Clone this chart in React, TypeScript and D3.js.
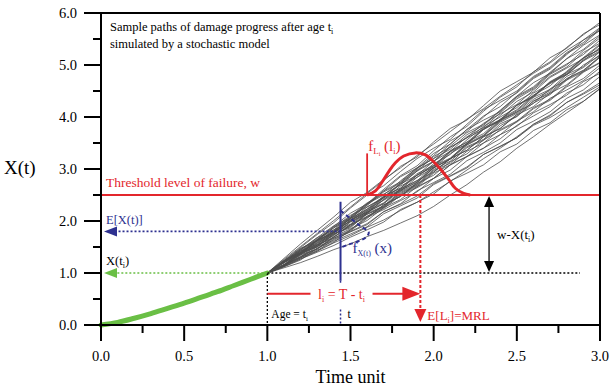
import React from 'react';
import * as d3 from 'd3';

// time grid used by the simulated sample paths (t = 1.0 .. 3.0)
const pathTimes = [1.0, 1.1, 1.2, 1.3, 1.4, 1.5, 1.6, 1.7, 1.8, 1.9, 2.0, 2.1, 2.2, 2.3, 2.4, 2.5, 2.6, 2.7, 2.8, 2.9, 3.0];

const samplePaths = [
  [1.00, 1.23, 1.47, 1.64, 1.90, 2.15, 2.33, 2.61, 2.87, 3.06, 3.35, 3.62, 3.82, 4.11, 4.38, 4.58, 4.87, 5.06, 5.34, 5.58, 5.82],
  [1.00, 1.14, 1.29, 1.51, 1.63, 1.80, 1.95, 2.18, 2.32, 2.48, 2.72, 2.87, 3.04, 3.28, 3.43, 3.60, 3.84, 3.99, 4.18, 4.38, 4.58],
  [1.00, 1.21, 1.37, 1.62, 1.79, 2.05, 2.23, 2.48, 2.63, 2.88, 3.15, 3.34, 3.62, 3.80, 4.08, 4.35, 4.54, 4.82, 5.00, 5.28, 5.52],
  [1.00, 1.16, 1.40, 1.54, 1.69, 1.93, 2.07, 2.31, 2.47, 2.72, 2.88, 3.14, 3.29, 3.56, 3.74, 3.90, 4.16, 4.32, 4.58, 4.74, 5.00],
  [1.00, 1.24, 1.49, 1.74, 1.97, 2.25, 2.50, 2.68, 2.95, 3.20, 3.40, 3.57, 3.86, 4.14, 4.32, 4.50, 4.78, 4.96, 5.24, 5.43, 5.70],
  [1.00, 1.13, 1.35, 1.46, 1.67, 1.81, 2.05, 2.31, 2.47, 2.74, 3.02, 3.20, 3.49, 3.76, 3.94, 4.22, 4.40, 4.68, 4.86, 5.14, 5.40],
  [1.00, 1.22, 1.45, 1.61, 1.77, 2.01, 2.27, 2.46, 2.73, 2.98, 3.15, 3.44, 3.70, 3.86, 4.13, 4.40, 4.66, 4.84, 5.12, 5.38, 5.58],
  [1.00, 1.12, 1.27, 1.40, 1.53, 1.69, 1.83, 1.98, 2.22, 2.36, 2.52, 2.77, 2.92, 3.08, 3.33, 3.48, 3.74, 3.89, 4.14, 4.30, 4.54],
  [1.00, 1.20, 1.34, 1.58, 1.83, 1.99, 2.15, 2.41, 2.67, 2.84, 3.02, 3.30, 3.48, 3.76, 3.94, 4.12, 4.40, 4.66, 4.82, 5.08, 5.25],
  [1.00, 1.15, 1.31, 1.54, 1.67, 1.83, 2.09, 2.26, 2.41, 2.66, 2.82, 3.08, 3.24, 3.40, 3.66, 3.82, 4.08, 4.24, 4.42, 4.68, 4.84],
  [1.00, 1.23, 1.39, 1.64, 1.89, 2.05, 2.31, 2.58, 2.75, 3.02, 3.30, 3.48, 3.76, 3.94, 4.10, 4.38, 4.56, 4.84, 5.02, 5.20, 5.48],
  [1.00, 1.26, 1.51, 1.76, 2.01, 2.27, 2.53, 2.78, 3.05, 3.23, 3.52, 3.78, 3.94, 4.22, 4.50, 4.68, 4.86, 5.14, 5.32, 5.60, 5.78],
  [1.00, 1.14, 1.37, 1.60, 1.75, 1.90, 2.15, 2.42, 2.59, 2.74, 3.02, 3.19, 3.47, 3.64, 3.92, 4.10, 4.26, 4.54, 4.71, 5.00, 5.18],
  [1.00, 1.20, 1.43, 1.58, 1.72, 1.98, 2.13, 2.28, 2.53, 2.68, 2.94, 3.20, 3.36, 3.62, 3.78, 4.04, 4.20, 4.46, 4.62, 4.88, 5.05],
  [1.00, 1.13, 1.27, 1.42, 1.65, 1.79, 1.93, 2.18, 2.33, 2.58, 2.74, 2.90, 3.16, 3.32, 3.50, 3.76, 3.92, 4.10, 4.36, 4.52, 4.78],
  [1.00, 1.21, 1.45, 1.68, 1.83, 2.09, 2.35, 2.52, 2.69, 2.96, 3.14, 3.42, 3.60, 3.76, 4.03, 4.30, 4.48, 4.76, 4.94, 5.12, 5.38],
  [1.00, 1.24, 1.41, 1.66, 1.81, 2.07, 2.33, 2.50, 2.77, 3.02, 3.20, 3.48, 3.76, 4.02, 4.20, 4.48, 4.76, 4.94, 5.22, 5.40, 5.68],
  [1.00, 1.16, 1.31, 1.46, 1.69, 1.93, 2.09, 2.24, 2.49, 2.64, 2.82, 3.08, 3.34, 3.50, 3.76, 3.92, 4.10, 4.36, 4.52, 4.70, 4.95],
  [1.00, 1.22, 1.37, 1.51, 1.73, 1.99, 2.23, 2.40, 2.57, 2.84, 3.10, 3.28, 3.56, 3.82, 4.00, 4.18, 4.46, 4.64, 4.81, 5.08, 5.34],
  [1.00, 1.12, 1.25, 1.48, 1.61, 1.75, 1.89, 2.14, 2.29, 2.44, 2.70, 2.86, 3.02, 3.28, 3.44, 3.60, 3.86, 4.02, 4.28, 4.44, 4.62],
  [1.00, 1.21, 1.44, 1.68, 1.91, 2.07, 2.33, 2.58, 2.85, 3.02, 3.20, 3.38, 3.66, 3.84, 4.12, 4.40, 4.58, 4.86, 5.12, 5.30, 5.56],
  [1.00, 1.15, 1.39, 1.53, 1.77, 2.01, 2.17, 2.34, 2.61, 2.78, 2.94, 3.20, 3.36, 3.62, 3.78, 4.05, 4.30, 4.48, 4.74, 4.90, 5.15],
  [1.00, 1.23, 1.47, 1.62, 1.87, 2.03, 2.19, 2.46, 2.71, 2.88, 3.06, 3.34, 3.52, 3.68, 3.96, 4.14, 4.42, 4.60, 4.88, 5.14, 5.30],
  [1.00, 1.14, 1.29, 1.44, 1.59, 1.83, 2.07, 2.22, 2.39, 2.56, 2.82, 2.98, 3.24, 3.40, 3.58, 3.84, 4.02, 4.20, 4.46, 4.62, 4.88],
  [1.00, 1.20, 1.42, 1.56, 1.80, 2.05, 2.30, 2.56, 2.73, 3.00, 3.26, 3.54, 3.72, 4.00, 4.28, 4.46, 4.74, 4.92, 5.20, 5.48, 5.66],
  [1.00, 1.16, 1.32, 1.47, 1.70, 1.85, 2.01, 2.26, 2.51, 2.66, 2.92, 3.08, 3.24, 3.50, 3.66, 3.92, 4.18, 4.34, 4.60, 4.86, 5.04],
  [1.00, 1.22, 1.39, 1.63, 1.87, 2.11, 2.27, 2.44, 2.71, 2.96, 3.24, 3.42, 3.60, 3.88, 4.06, 4.24, 4.52, 4.78, 4.96, 5.24, 5.42],
  [1.00, 1.10, 1.20, 1.32, 1.45, 1.56, 1.70, 1.82, 1.96, 2.10, 2.28, 2.50, 2.70, 2.94, 3.14, 3.40, 3.62, 3.86, 4.08, 4.30, 4.55],
  [1.00, 1.15, 1.30, 1.42, 1.58, 1.72, 1.88, 2.02, 2.20, 2.36, 2.56, 2.76, 2.98, 3.20, 3.40, 3.62, 3.86, 4.04, 4.28, 4.46, 4.66],
  [1.00, 1.28, 1.56, 1.82, 2.08, 2.36, 2.55, 2.80, 3.02, 3.26, 3.48, 3.72, 3.96, 4.16, 4.40, 4.62, 4.84, 5.04, 5.28, 5.48, 5.72],
  [1.00, 1.19, 1.42, 1.55, 1.80, 1.94, 2.20, 2.35, 2.62, 2.77, 3.06, 3.21, 3.49, 3.65, 3.94, 4.09, 4.38, 4.53, 4.82, 4.97, 5.26],
  [1.00, 1.15, 1.38, 1.53, 1.78, 1.92, 2.17, 2.33, 2.59, 2.75, 3.03, 3.19, 3.46, 3.63, 3.90, 4.07, 4.34, 4.51, 4.78, 4.95, 5.20],
  [1.00, 1.22, 1.36, 1.63, 1.78, 2.02, 2.17, 2.45, 2.60, 2.88, 3.04, 3.33, 3.48, 3.78, 3.92, 4.23, 4.38, 4.66, 4.83, 5.10, 5.27],
  [1.00, 1.16, 1.39, 1.50, 1.75, 1.89, 2.13, 2.27, 2.55, 2.69, 2.97, 3.11, 3.41, 3.55, 3.83, 4.01, 4.27, 4.43, 4.71, 4.87, 5.15],
  [1.00, 1.23, 1.39, 1.63, 1.79, 2.05, 2.21, 2.47, 2.63, 2.91, 3.07, 3.35, 3.51, 3.79, 3.95, 4.23, 4.41, 4.67, 4.85, 5.13, 5.31],
  [1.00, 1.14, 1.36, 1.51, 1.75, 1.87, 2.15, 2.29, 2.57, 2.71, 2.99, 3.15, 3.43, 3.57, 3.87, 4.01, 4.31, 4.45, 4.73, 4.89, 5.17],
];

// damage progress up to age t_i
const ageTimes = [0, 0.1, 0.2, 0.3, 0.4, 0.5, 0.6, 0.7, 0.8, 0.9, 1.0];
const ageDamage = [0, 0.05, 0.13, 0.22, 0.32, 0.42, 0.53, 0.64, 0.76, 0.88, 1.0];

// pdf of residual life, drawn on top of the threshold
const lifeT = [1.6, 1.65, 1.69, 1.73, 1.77, 1.82, 1.89, 1.95, 2.0, 2.04, 2.09, 2.13, 2.18, 2.22];
const lifeY = [2.5, 2.58, 2.75, 2.95, 3.12, 3.25, 3.31, 3.27, 3.14, 3.0, 2.8, 2.63, 2.53, 2.5];

// pdf of X(t) (sideways, at t)
const damageT = [1.44, 1.5, 1.56, 1.61, 1.59, 1.54, 1.49, 1.45];
const damageY = [2.2, 2.05, 1.9, 1.78, 1.68, 1.6, 1.55, 1.5];

const xMajor = [0, 0.5, 1.0, 1.5, 2.0, 2.5, 3.0];
const xMinor = [0.25, 0.75, 1.25, 1.75, 2.25, 2.75];
const yMajor = [0, 1, 2, 3, 4, 5, 6];
const yMinor = [0.5, 1.5, 2.5, 3.5, 4.5, 5.5];

const threshold = 2.5;
const ageTi = 1.0;
const damageTi = 1.0;
const tNow = 1.44;
const meanXt = 1.8;
const mrlT = 1.92;

const RED = '#e3262c';
const BLUE = '#2e3190';
const GREEN = '#6abf45';
const FONT = '"Liberation Serif", "Times New Roman", serif';

const x = d3.scaleLinear().domain([0, 3]).range([101, 600]);
const y = d3.scaleLinear().domain([0, 6]).range([325, 13]);

const head = (x1: number, y1: number, x2: number, y2: number, color: string, len = 12, w = 5) => {
  const a = Math.atan2(y2 - y1, x2 - x1);
  const bx = x2 - len * Math.cos(a);
  const by = y2 - len * Math.sin(a);
  const px = -Math.sin(a) * w;
  const py = Math.cos(a) * w;
  return <polygon points={`${x2},${y2} ${bx + px},${by + py} ${bx - px},${by - py}`} fill={color} />;
};

const Sub = ({ children, size = 8 }: any) => (
  <tspan fontSize={size} dy={3}>{children}</tspan>
);

export default function App() {
  const line = d3.line<[number, number]>().x(d => x(d[0])).y(d => y(d[1]));
  const smooth = d3.line<[number, number]>().x(d => x(d[0])).y(d => y(d[1])).curve(d3.curveCatmullRom);

  const txt = { fontFamily: FONT };

  return (
    <div style={{ position: 'fixed', left: 0, top: 0 }}>
      <svg width={616} height={392} style={{ display: 'block', background: '#fff' }}>
        {/* sample paths */}
        <g fill="none" stroke="#4d4d4d" strokeWidth={0.8}>
          {samplePaths.map((p, i) => (
            <path key={i} d={line(p.map((v, j) => [pathTimes[j], v]))!} />
          ))}
        </g>

        {/* damage until age t_i */}
        <path d={smooth(ageTimes.map((t, i) => [t, ageDamage[i]]))!} fill="none" stroke={GREEN} strokeWidth={5} strokeLinecap="round" />

        {/* threshold */}
        <line x1={x(0)} x2={x(3)} y1={y(threshold)} y2={y(threshold)} stroke={RED} strokeWidth={2.2} />
        <text x={106} y={y(threshold) - 8} fill={RED} fontSize={13.5} {...txt}>Threshold level of failure, w</text>

        {/* residual life pdf */}
        <path d={smooth(lifeT.map((t, i) => [t, lifeY[i]]))!} fill="none" stroke={RED} strokeWidth={3} />
        <line x1={x(1.6)} x2={x(1.6)} y1={y(threshold)} y2={y(3.3)} stroke={RED} strokeWidth={1.8} />
        <text x={x(1.6) + 1} y={y(3.35)} fill={RED} fontSize={15} {...txt}>
          f<tspan fontSize={9} dy={3}>L</tspan><tspan fontSize={6} dy={2}>i</tspan>
          <tspan dy={-5}> (l</tspan><tspan fontSize={8} dy={3}>i</tspan><tspan dy={-3}>)</tspan>
        </text>

        {/* x(t_i) level dotted */}
        <line x1={x(ageTi)} x2={x(2.88)} y1={y(damageTi)} y2={y(damageTi)} stroke="#000" strokeWidth={1.3} strokeDasharray="2,2" />
        <line x1={x(ageTi)} x2={x(ageTi)} y1={y(damageTi)} y2={y(0)} stroke="#000" strokeWidth={1.3} strokeDasharray="2,2" />
        <line x1={x(ageTi)} x2={x(0) + 12} y1={y(damageTi)} y2={y(damageTi)} stroke={GREEN} strokeWidth={1.6} strokeDasharray="2,2" />
        {head(x(ageTi), y(damageTi), x(0) + 3, y(damageTi), GREEN, 13, 5)}
        <text x={106} y={y(damageTi) - 8} fontSize={12.5} {...txt}>X(t<Sub size={8}>i</Sub><tspan dy={-3}>)</tspan></text>

        {/* E[X(t)] */}
        <line x1={x(tNow)} x2={x(0) + 12} y1={y(meanXt)} y2={y(meanXt)} stroke={BLUE} strokeWidth={1.6} strokeDasharray="2,2" />
        {head(x(tNow), y(meanXt), x(0) + 3, y(meanXt), BLUE, 13, 5)}
        <text x={106} y={y(meanXt) - 7} fill={BLUE} fontSize={12.5} {...txt}>E[X(t)]</text>

        {/* pdf of X(t) */}
        <line x1={x(tNow)} x2={x(tNow)} y1={y(2.37)} y2={y(0.85)} stroke={BLUE} strokeWidth={2} />
        <line x1={x(tNow)} x2={x(tNow)} y1={y(0.85)} y2={y(0.7)} stroke={BLUE} strokeWidth={1.5} strokeDasharray="2,2" />
        <line x1={x(tNow)} x2={x(tNow)} y1={y(0.3)} y2={y(0)} stroke={BLUE} strokeWidth={1.5} strokeDasharray="2,2" />
        <path d={smooth(damageT.map((t, i) => [t, damageY[i]]))!} fill="none" stroke={BLUE} strokeWidth={2} strokeDasharray="4,3" />
        <text x={x(tNow) + 12} y={y(1.38)} fill={BLUE} fontSize={15} {...txt}>
          f<tspan fontSize={8} dy={3}>X(t)</tspan><tspan dy={-3}> (x)</tspan>
        </text>

        {/* residual life arrow */}
        <line x1={x(ageTi)} x2={x(mrlT) - 10} y1={y(0.6)} y2={y(0.6)} stroke={RED} strokeWidth={2} />
        {head(x(ageTi), y(0.6), x(mrlT), y(0.6), RED, 18, 7)}
        <rect x={x(tNow) - 30} y={y(0.6) - 10} width={62} height={20} fill="#fff" />
        <text x={x(tNow) + 1} y={y(0.6) + 5} textAnchor="middle" fill={RED} fontSize={14} {...txt}>
          l<Sub size={8}>i</Sub><tspan dy={-3}> = T - t</tspan><Sub size={8}>i</Sub>
        </text>

        {/* MRL dotted drop */}
        <line x1={x(mrlT)} x2={x(mrlT)} y1={y(threshold)} y2={y(0.1) - 10} stroke={RED} strokeWidth={2} strokeDasharray="3,2" />
        {head(x(mrlT), y(0.3), x(mrlT), y(0.06), RED, 13, 6)}
        <text x={x(mrlT) + 7} y={y(0.1)} fill={RED} fontSize={13} {...txt}>
          E[L<Sub size={8}>i</Sub><tspan dy={-3}>]=MRL</tspan>
        </text>

        {/* w - X(t_i) */}
        <line x1={x(2.333)} x2={x(2.333)} y1={y(threshold) + 8} y2={y(damageTi) - 8} stroke="#000" strokeWidth={1.3} />
        {head(x(2.333), y(1.8), x(2.333), y(threshold) + 1, '#000', 11, 5)}
        {head(x(2.333), y(1.8), x(2.333), y(damageTi) - 1, '#000', 11, 5)}
        <text x={x(2.333) + 8} y={y(1.65)} fontSize={13} {...txt}>
          w-X(t<Sub size={8}>i</Sub><tspan dy={-3}>)</tspan>
        </text>

        {/* age labels */}
        <text x={x(ageTi) + 4} y={318} fontSize={11.5} {...txt}>Age = t<Sub size={7}>i</Sub></text>
        <text x={x(tNow) + 7} y={318} fontSize={11.5} {...txt}>t</text>

        {/* title */}
        <text x={110} y={31} fontSize={12.5} {...txt}>Sample paths of damage progress after age t<Sub size={8}>i</Sub></text>
        <text x={110} y={48} fontSize={12.5} {...txt}>simulated by a stochastic model</text>

        {/* frame and axes */}
        <g stroke="#000" strokeWidth={2}>
          <line x1={x(0)} x2={x(3)} y1={y(6)} y2={y(6)} />
          <line x1={x(3)} x2={x(3)} y1={y(6)} y2={y(0)} />
          <line x1={x(0)} x2={x(0)} y1={y(6)} y2={y(0)} />
          <line x1={x(0)} x2={x(3)} y1={y(0)} y2={y(0)} />
          {yMajor.map(v => <line key={'ym' + v} x1={x(0) - 17} x2={x(0)} y1={y(v)} y2={y(v)} />)}
          {yMinor.map(v => <line key={'yn' + v} x1={x(0) - 8} x2={x(0)} y1={y(v)} y2={y(v)} />)}
          {xMajor.map(v => <line key={'xm' + v} x1={x(v)} x2={x(v)} y1={y(0)} y2={y(0) + 16} />)}
          {xMinor.map(v => <line key={'xn' + v} x1={x(v)} x2={x(v)} y1={y(0)} y2={y(0) + 8} />)}
        </g>
        {yMajor.map(v => (
          <text key={'yl' + v} x={77} y={y(v) + 5} textAnchor="end" fontSize={14.5} {...txt}>{v.toFixed(1)}</text>
        ))}
        {xMajor.map(v => (
          <text key={'xl' + v} x={x(v)} y={361} textAnchor="middle" fontSize={14.5} {...txt}>{v.toFixed(1)}</text>
        ))}
        <text x={x(1.5)} y={383} textAnchor="middle" fontSize={18} {...txt}>Time unit</text>
        <text x={4} y={174} fontSize={19} {...txt}>X(t)</text>
      </svg>
    </div>
  );
}
